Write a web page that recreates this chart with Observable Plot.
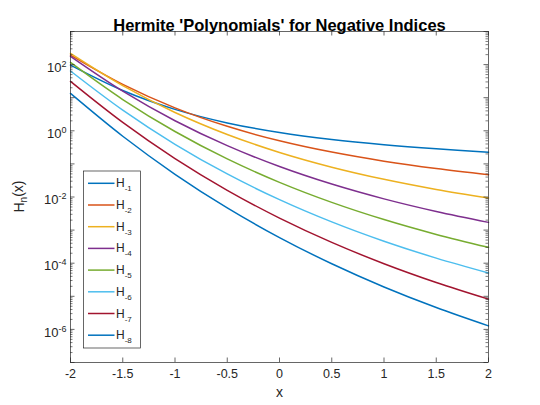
<!DOCTYPE html>
<html>
<head>
<meta charset="utf-8">
<script src="https://cdn.jsdelivr.net/npm/d3@7"></script>
<script src="https://cdn.jsdelivr.net/npm/@observablehq/plot@0.6"></script>
<style>
  html, body { margin: 0; padding: 0; background: white; }
  #chart { width: 540px; height: 405px; }
</style>
</head>
<body>
<div id="chart"></div>
<script>
// x sample positions
const xs = [-2, -1.5, -1, -0.5, 0, 0.5, 1, 1.5, 2];
// values (log scale)
const H1 = [96.55, 16.53, 4.439, 1.730, 0.8862, 0.5456, 0.3789, 0.2850, 0.2263];
const H2 = [193.6, 25.30, 4.939, 1.365, 0.5000, 0.2272, 0.1211, 0.07250, 0.04732];
const H3 = [217.7, 23.11, 3.579, 0.7738, 0.2216, 0.07962, 0.03420, 0.01687, 0.009262];
const H4 = [177.4, 15.77, 2.016, 0.3565, 0.08333, 0.02459, 0.008777, 0.003648, 0.001713];
const H5 = [115.9, 8.802, 0.9515, 0.1413, 0.02769, 0.006878, 0.002081, 0.0007410, 0.0003014];
const H6 = [64.11, 4.217, 0.3919, 0.04978, 0.008333, 0.001772, 0.0004615, 0.0001425, 0.00005073];
const H7 = [31.03, 1.788, 0.1446, 0.01592, 0.002308, 0.0004255, 0.00009651, 0.00002612, 0.000008204];
const H8 = [13.45, 0.6844, 0.04865, 0.004693, 0.0005952, 0.00009615, 0.00001917, 0.000004581, 0.000001279];
const seriesNames = ["-1", "-2", "-3", "-4", "-5", "-6", "-7", "-8"];
const seriesColors = ["#0072BD", "#D95319", "#EDB120", "#7E2F8E", "#77AC30", "#4DBEEE", "#A2142F", "#0072BD"];
const xTicks = [-2, -1.5, -1, -0.5, 0, 0.5, 1, 1.5, 2];
const yLabelTicks = [1e2, 1e0, 1e-2, 1e-4, 1e-6];
const yMajorTicks = [1e-7, 1e-6, 1e-5, 1e-4, 1e-3, 1e-2, 1e-1, 1e0, 1e1, 1e2, 1e3];
const titleText = "Hermite 'Polynomials' for Negative Indices";

const allSeries = [H1, H2, H3, H4, H5, H6, H7, H8];
const rows = [];
allSeries.forEach((vals, i) => xs.forEach((x, j) => rows.push({x, y: vals[j], s: seriesNames[i]})));
const yMinorTicks = [];
yMajorTicks.slice(0, -1).forEach(d => { for (let k = 2; k <= 9; k++) yMinorTicks.push(d * k); });

const W = 540, H = 405, ML = 70, MR = 52, MT = 31, MB = 43;
const PW = W - ML - MR, PH = H - MT - MB;
const axisColor = "#262626";
const font = "'Liberation Sans', Arial, Helvetica, sans-serif";

const chart = Plot.plot({
  width: W, height: H,
  marginLeft: ML, marginRight: MR, marginTop: MT, marginBottom: MB,
  style: {fontFamily: font, fontSize: "12px", background: "white", color: axisColor},
  x: {domain: [-2, 2]},
  y: {type: "log", domain: [1e-7, 1e3]},
  color: {domain: seriesNames, range: seriesColors},
  marks: [
    Plot.line(rows, {x: "x", y: "y", z: "s", stroke: "s", strokeWidth: 1.5, curve: "catmull-rom"}),
    Plot.frame({stroke: axisColor, strokeWidth: 0.7}),
    // x ticks (inward, bottom & top)
    Plot.tickX(xTicks, {x: d => d, insetTop: PH - 4.5, stroke: axisColor, strokeWidth: 0.7}),
    Plot.tickX(xTicks, {x: d => d, insetBottom: PH - 4.5, stroke: axisColor, strokeWidth: 0.7}),
    Plot.axisX({ticks: xTicks, tickSize: 0, tickPadding: 7, tickFormat: d => String(d), fontSize: 12.5, label: null}),
    // y ticks (inward, left & right)
    Plot.tickY(yMajorTicks, {y: d => d, insetRight: PW - 4.5, stroke: axisColor, strokeWidth: 0.7}),
    Plot.tickY(yMajorTicks, {y: d => d, insetLeft: PW - 4.5, stroke: axisColor, strokeWidth: 0.7}),
    Plot.tickY(yMinorTicks, {y: d => d, insetRight: PW - 2.5, stroke: axisColor, strokeWidth: 0.6}),
    Plot.tickY(yMinorTicks, {y: d => d, insetLeft: PW - 2.5, stroke: axisColor, strokeWidth: 0.6}),
    Plot.axisY({ticks: yLabelTicks, tickSize: 0, tickPadding: 4, dy: 3, tickFormat: d => "E" + Math.round(Math.log10(d)), fontSize: 13, label: null}),
    Plot.text([titleText], {frameAnchor: "top", dy: -12, fontWeight: "bold", fontSize: 16.5, fill: "black"}),
    Plot.text(["x"], {frameAnchor: "bottom", dy: 34, fontSize: 14, fill: axisColor})
  ]
});
document.getElementById("chart").appendChild(chart);

const svg = d3.select(chart);
// superscript exponents on y tick labels
svg.selectAll('g[aria-label="y-axis tick label"] text').each(function() {
  const t = d3.select(this);
  const s = t.text();
  if (!s.startsWith("E")) return;
  const e = s.slice(1);
  t.text("10");
  t.append("tspan").attr("dy", "-0.55em").attr("font-size", "9px").text(e);
});

// y axis label H_n(x)
const yl = svg.append("text")
  .attr("transform", `translate(24,${MT + PH / 2}) rotate(-90)`)
  .attr("text-anchor", "middle")
  .attr("font-family", font).attr("font-size", "14px").attr("fill", axisColor);
yl.append("tspan").text("H");
yl.append("tspan").attr("dy", "0.3em").attr("font-size", "10px").text("n");
yl.append("tspan").attr("dy", "-0.3em").text("(x)");

// legend
const lg = svg.append("g").attr("font-family", font).attr("text-anchor", "start");
const lx = 83.5, ly = 171, lw = 57, lh = 177, step = 21.7, first = 183.3;
lg.append("rect").attr("x", lx).attr("y", ly).attr("width", lw).attr("height", lh)
  .attr("fill", "white").attr("stroke", axisColor).attr("stroke-width", 0.7);
seriesNames.forEach((n, i) => {
  const yy = first + i * step;
  lg.append("line").attr("x1", 88).attr("x2", 114.5).attr("y1", yy).attr("y2", yy)
    .attr("stroke", seriesColors[i]).attr("stroke-width", 1.5);
  const t = lg.append("text").attr("x", 116).attr("y", yy + 4).attr("font-size", "12px")
    .attr("text-anchor", "start").attr("fill", axisColor);
  t.append("tspan").text("H");
  t.append("tspan").attr("dy", 4).attr("font-size", "8px").text(n);
});
</script>
</body>
</html>
